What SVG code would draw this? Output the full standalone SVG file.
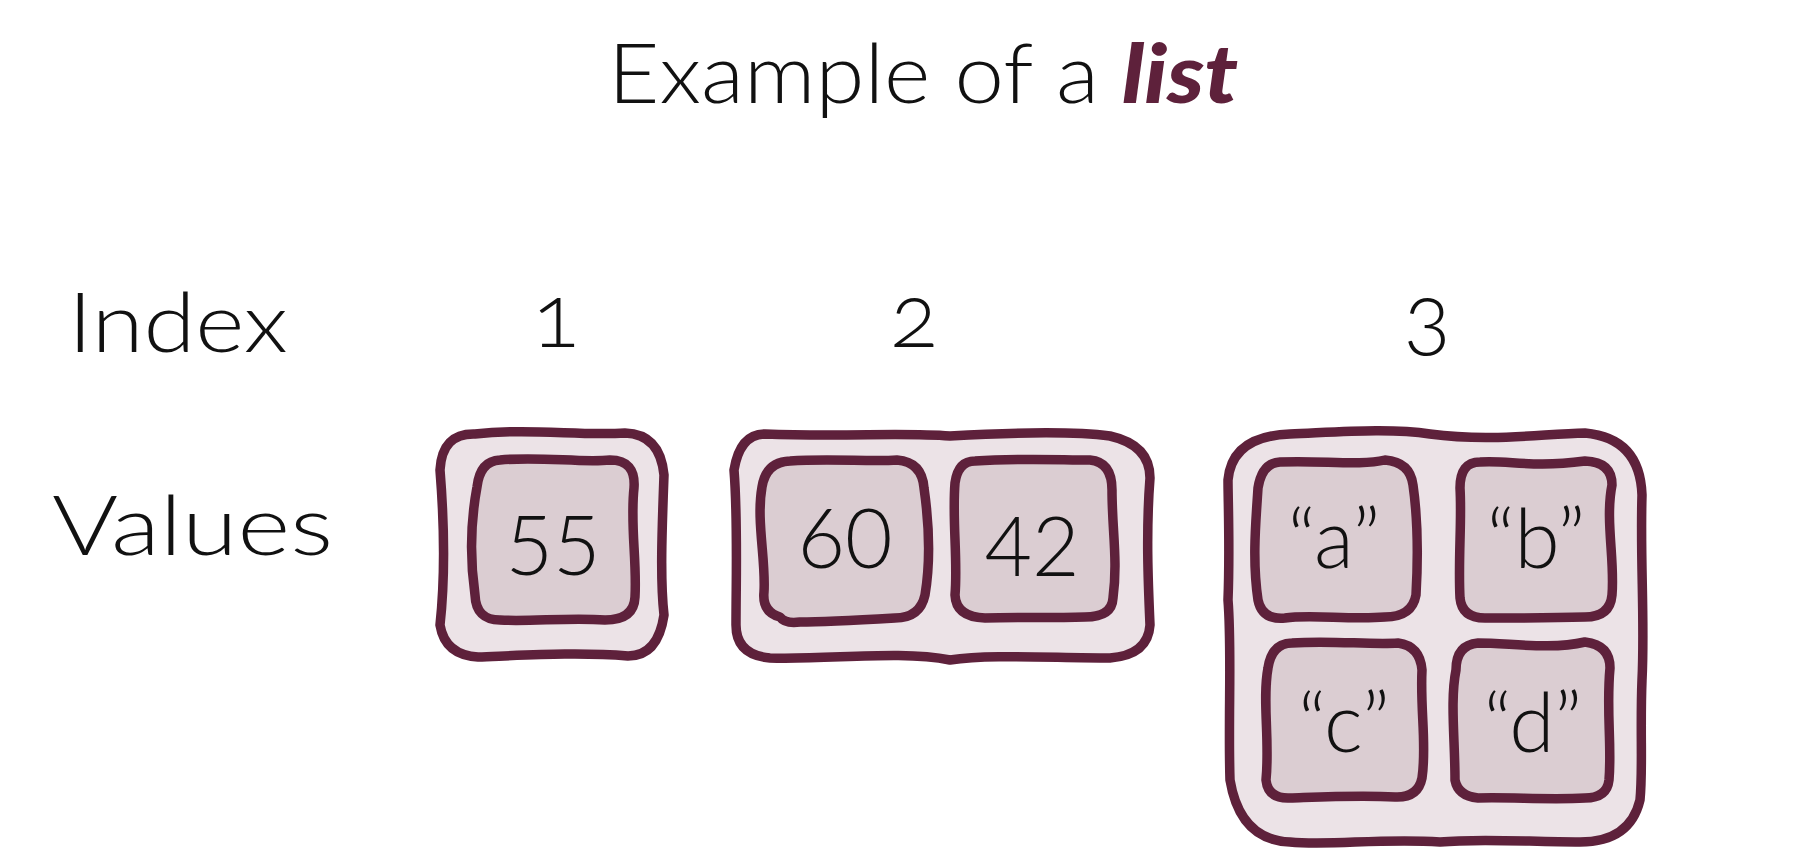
<svg xmlns="http://www.w3.org/2000/svg" width="1808" height="849" viewBox="0 0 1808 849">
<style>
.t{font-family:Lato,"Noto Sans","Liberation Sans",sans-serif;font-weight:300;fill:#111;}
.num{font-variant-numeric:oldstyle-nums;}
.outer{fill:#ece3e7;stroke:#5e213b;stroke-width:9.5;stroke-linejoin:round;}
.inner{fill:#dbcdd2;stroke:#5e213b;stroke-width:9.5;stroke-linejoin:round;}
.v{font-size:82px;text-anchor:middle;}
</style>
<rect width="1808" height="849" fill="#ffffff"/>
<g id="title">
<text class="t" x="608" y="103" font-size="82" textLength="491" lengthAdjust="spacingAndGlyphs">Example of a</text>
<text x="1122" y="103" font-family="Lato,'Noto Sans','Liberation Sans',sans-serif" font-size="82" font-weight="900" font-style="italic" fill="#5e213b" textLength="116" lengthAdjust="spacingAndGlyphs">list</text>
</g>
<g id="labels">
<text class="t" x="68" y="352" font-size="82" textLength="220" lengthAdjust="spacingAndGlyphs">Index</text>
<text class="t" x="52" y="555" font-size="82" textLength="281" lengthAdjust="spacingAndGlyphs">Values</text>
<text class="t num" x="556" y="347" font-size="88" text-anchor="middle">1</text>
<text class="t num" x="914" y="347" font-size="88" text-anchor="middle">2</text>
<text class="t num" x="1427" y="347" font-size="88" text-anchor="middle">3</text>
</g>
<g id="item1">
<path class="outer" d="M 475,434 C 530,428 580,436 625,433 Q 660,434 664,475 C 662,530 660,580 664,615 Q 658,656 628,656 C 580,652 530,655 478,657 Q 445,655 440,625 C 446,570 444,520 440,470 Q 442,433 475,434 Z"/>
<g id="v55">
<path class="inner" d="M 500,460 C 540,456 580,463 610,460 Q 636,460 634,488 C 630,525 637,560 635,597 Q 634,620 605,620 C 570,617 530,622 500,620 Q 476,620 475,595 C 470,560 470,525 477,487 Q 480,461 500,460 Z"/>
<text class="t v" x="553" y="575">55</text>
</g>
</g>
<g id="item2">
<path class="outer" d="M 765,434 C 850,437 900,432 950,436 C 1020,432 1080,432 1110,436 Q 1150,445 1150,478 C 1146,530 1148,580 1150,625 Q 1148,655 1110,658 C 1050,658 990,654 950,660 C 900,650 830,660 770,658 Q 736,655 736,625 C 736,580 738,520 734,470 Q 740,434 765,434 Z"/>
<g id="v60">
<path class="inner" d="M 790,461 C 830,458 870,462 897,460 Q 922,462 924,488 C 930,530 930,565 925,595 Q 920,618 895,618 C 860,620 825,622 800,622 Q 785,624 780,617 Q 762,612 764,592 C 766,560 756,520 762,487 Q 766,462 790,461 Z"/>
<text class="t v" x="845" y="568">60</text>
</g>
<g id="v42">
<path class="inner" d="M 975,461 C 1020,458 1060,460 1090,460 Q 1112,462 1112,490 C 1112,530 1118,560 1113,598 Q 1112,617 1085,617 C 1050,618 1020,617 985,618 Q 956,617 955,595 C 958,560 952,520 955,483 Q 958,461 975,461 Z"/>
<text class="t v" x="1032" y="576">42</text>
</g>
</g>
<g id="item3">
<path class="outer" d="M 1290,434 C 1340,432 1390,428 1430,434 C 1490,442 1540,434 1585,433 Q 1640,438 1642,495 C 1640,560 1645,620 1642,680 C 1640,730 1643,770 1640,800 Q 1630,842 1580,842 C 1530,842 1480,838 1440,842 C 1380,838 1330,846 1290,842 Q 1240,840 1230,780 C 1228,720 1232,650 1228,600 C 1230,550 1228,500 1228,480 Q 1232,436 1290,434 Z"/>
<g id="va">
<path class="inner" d="M 1280,462 C 1320,460 1360,466 1385,460 Q 1410,462 1413,485 C 1418,520 1418,560 1416,595 Q 1412,617 1385,617 C 1350,620 1310,614 1285,618 Q 1262,620 1258,600 C 1252,560 1256,520 1258,488 Q 1262,463 1280,462 Z"/>
<text class="t v" x="1334" y="568">“a”</text>
</g>
<g id="vb">
<path class="inner" d="M 1480,462 C 1510,460 1530,468 1585,461 Q 1612,462 1612,485 C 1605,520 1615,560 1612,595 Q 1610,617 1585,617 C 1550,618 1510,618 1485,618 Q 1462,618 1460,598 C 1458,560 1462,520 1460,488 Q 1460,462 1480,462 Z"/>
<text class="t v" x="1536" y="568">“b”</text>
</g>
<g id="vc">
<path class="inner" d="M 1292,643 C 1330,640 1370,645 1398,643 Q 1420,646 1422,670 C 1420,710 1427,745 1422,778 Q 1418,798 1395,797 C 1360,795 1320,797 1290,798 Q 1268,799 1266,780 C 1270,740 1262,700 1268,668 Q 1272,643 1292,643 Z"/>
<text class="t v" x="1344" y="752">“c”</text>
</g>
<g id="vd">
<path class="inner" d="M 1478,643 C 1510,643 1550,650 1585,642 Q 1610,645 1610,668 C 1606,710 1612,745 1609,780 Q 1607,798 1585,798 C 1550,800 1510,797 1478,798 Q 1458,796 1455,780 C 1455,740 1450,700 1456,670 Q 1456,645 1478,643 Z"/>
<text class="t v" x="1533" y="752">“d”</text>
</g>
</g>
<g id="connectors"></g>
</svg>
